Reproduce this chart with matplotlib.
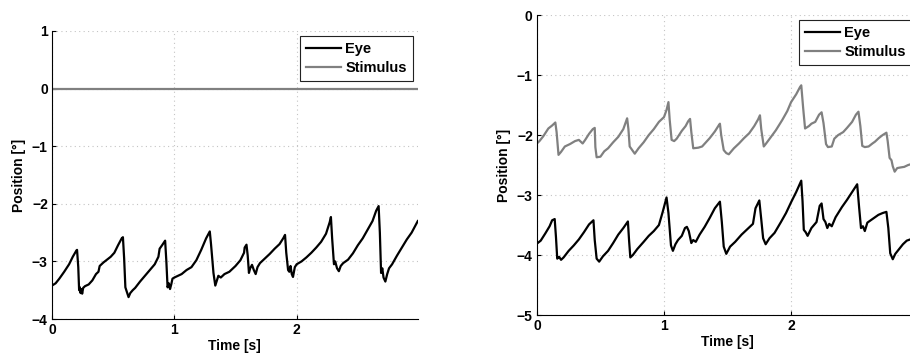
import matplotlib

matplotlib.use("Agg")
import matplotlib.pyplot as plt

# left panel: stimulus fixed at 0, eye drifts in a sawtooth
left_eye_t = [0.00, 0.03, 0.06, 0.10, 0.14, 0.17, 0.20, 0.205, 0.215, 0.222, 0.228, 0.234,
              0.240, 0.247, 0.255, 0.27, 0.30, 0.33, 0.36, 0.38, 0.39, 0.42, 0.45, 0.48,
              0.51, 0.54, 0.57, 0.58, 0.59, 0.60, 0.615, 0.626, 0.64, 0.66, 0.68, 0.72,
              0.76, 0.80, 0.84, 0.87, 0.88, 0.90, 0.925, 0.935, 0.945, 0.955, 0.965, 0.975,
              0.985, 1.00, 1.03, 1.06, 1.10, 1.14, 1.18, 1.22, 1.26, 1.29, 1.30, 1.32,
              1.335, 1.35, 1.36, 1.38, 1.41, 1.45, 1.50, 1.54, 1.57, 1.575, 1.59, 1.60,
              1.61, 1.62, 1.635, 1.65, 1.665, 1.68, 1.70, 1.74, 1.78, 1.82, 1.86, 1.89,
              1.905, 1.915, 1.93, 1.94, 1.95, 1.96, 1.97, 1.985, 2.00, 2.04, 2.08, 2.12,
              2.16, 2.20, 2.24, 2.27, 2.28, 2.29, 2.305, 2.315, 2.33, 2.345, 2.36, 2.38,
              2.42, 2.46, 2.50, 2.54, 2.58, 2.62, 2.65, 2.67, 2.68, 2.69, 2.70, 2.71,
              2.725, 2.74, 2.755, 2.78, 2.82, 2.86, 2.90, 2.94, 2.97, 2.99]
left_eye_y = [-3.42, -3.38, -3.30, -3.18, -3.05, -2.92, -2.81, -2.80, -3.10, -3.50, -3.45, -3.55,
              -3.48, -3.56, -3.46, -3.43, -3.40, -3.33, -3.22, -3.18, -3.08, -3.02, -2.97, -2.92,
              -2.85, -2.72, -2.60, -2.58, -2.95, -3.45, -3.55, -3.62, -3.55, -3.50, -3.46, -3.35,
              -3.25, -3.15, -3.05, -2.92, -2.78, -2.72, -2.64, -3.00, -3.45, -3.38, -3.48, -3.40,
              -3.30, -3.28, -3.25, -3.22, -3.15, -3.10, -2.98, -2.80, -2.60, -2.48, -2.70, -3.20,
              -3.42, -3.32, -3.25, -3.28, -3.22, -3.18, -3.08, -2.98, -2.85, -2.76, -2.71, -2.90,
              -3.20, -3.12, -3.06, -3.15, -3.22, -3.10, -3.03, -2.95, -2.87, -2.78, -2.70, -2.60,
              -2.54, -2.85, -3.15, -3.18, -3.08, -3.22, -3.27, -3.10, -3.05, -3.00, -2.93, -2.85,
              -2.76, -2.66, -2.52, -2.32, -2.23, -2.60, -3.05, -3.00, -3.12, -3.17, -3.08, -3.03,
              -2.97, -2.86, -2.72, -2.60, -2.45, -2.30, -2.12, -2.04, -2.50, -3.20, -3.12, -3.28,
              -3.35, -3.22, -3.12, -3.05, -2.90, -2.76, -2.62, -2.50, -2.38, -2.30]
left_stim_t = [0.0, 2.99]
left_stim_y = [0.0, 0.0]

# right panel: moving stimulus, eye follows about 1.6 deg below
right_stim_t = [0.00, 0.02, 0.05, 0.09, 0.12, 0.145, 0.155, 0.17, 0.19, 0.22, 0.26, 0.30,
                0.33, 0.36, 0.38, 0.41, 0.44, 0.455, 0.46, 0.47, 0.50, 0.53, 0.56, 0.60,
                0.64, 0.68, 0.71, 0.72, 0.73, 0.76, 0.77, 0.80, 0.84, 0.88, 0.92, 0.96,
                1.00, 1.02, 1.035, 1.045, 1.06, 1.08, 1.10, 1.14, 1.17, 1.19, 1.205, 1.215,
                1.23, 1.27, 1.30, 1.33, 1.36, 1.40, 1.43, 1.44, 1.45, 1.47, 1.49, 1.51,
                1.55, 1.59, 1.63, 1.67, 1.71, 1.74, 1.755, 1.765, 1.785, 1.80, 1.835, 1.88,
                1.93, 1.97, 2.00, 2.04, 2.07, 2.08, 2.095, 2.11, 2.14, 2.16, 2.19, 2.22,
                2.24, 2.255, 2.275, 2.29, 2.32, 2.34, 2.37, 2.41, 2.44, 2.48, 2.51, 2.53,
                2.545, 2.56, 2.58, 2.61, 2.64, 2.66, 2.69, 2.72, 2.75, 2.76, 2.775, 2.79,
                2.80, 2.815, 2.835, 2.86, 2.89, 2.92, 2.95, 2.99]
right_stim_y = [-2.14, -2.10, -2.02, -1.89, -1.84, -1.79, -1.95, -2.33, -2.28, -2.19, -2.15, -2.10,
                -2.08, -2.14, -2.08, -1.98, -1.90, -1.88, -2.20, -2.37, -2.36, -2.27, -2.22, -2.12,
                -2.03, -1.90, -1.72, -1.90, -2.19, -2.28, -2.31, -2.22, -2.12, -2.00, -1.90, -1.78,
                -1.70, -1.58, -1.45, -1.75, -2.08, -2.10, -2.06, -1.93, -1.85, -1.77, -1.73, -1.95,
                -2.22, -2.21, -2.19, -2.12, -2.05, -1.94, -1.84, -1.81, -2.00, -2.25, -2.30, -2.32,
                -2.22, -2.14, -2.05, -1.97, -1.85, -1.74, -1.67, -1.90, -2.19, -2.15, -2.05, -1.92,
                -1.75, -1.60, -1.45, -1.32, -1.20, -1.17, -1.55, -1.89, -1.85, -1.81, -1.78, -1.66,
                -1.62, -1.80, -2.15, -2.20, -2.19, -2.06, -2.00, -1.95, -1.88, -1.78, -1.66, -1.61,
                -1.85, -2.18, -2.20, -2.19, -2.14, -2.11, -2.05, -2.00, -1.96, -2.10, -2.38, -2.42,
                -2.52, -2.61, -2.55, -2.54, -2.53, -2.50, -2.48, -2.46]
right_eye_t = [0.00, 0.03, 0.066, 0.10, 0.12, 0.14, 0.15, 0.16, 0.175, 0.19, 0.21, 0.25,
               0.29, 0.33, 0.37, 0.41, 0.445, 0.455, 0.47, 0.49, 0.52, 0.56, 0.60, 0.64,
               0.68, 0.716, 0.725, 0.735, 0.755, 0.79, 0.84, 0.88, 0.92, 0.96, 0.99, 1.02,
               1.035, 1.055, 1.07, 1.09, 1.11, 1.14, 1.165, 1.18, 1.195, 1.205, 1.215, 1.23,
               1.25, 1.28, 1.32, 1.36, 1.40, 1.44, 1.455, 1.47, 1.49, 1.52, 1.56, 1.61,
               1.66, 1.70, 1.72, 1.75, 1.765, 1.78, 1.80, 1.83, 1.87, 1.92, 1.96, 2.00,
               2.04, 2.08, 2.09, 2.10, 2.115, 2.13, 2.16, 2.20, 2.225, 2.24, 2.255, 2.27,
               2.285, 2.30, 2.32, 2.35, 2.40, 2.44, 2.48, 2.52, 2.535, 2.55, 2.565, 2.58,
               2.60, 2.64, 2.687, 2.72, 2.75, 2.765, 2.78, 2.80, 2.82, 2.85, 2.88, 2.91,
               2.95, 2.99]
right_eye_y = [-3.81, -3.76, -3.64, -3.52, -3.42, -3.40, -3.70, -4.06, -4.03, -4.08, -4.04, -3.93,
               -3.84, -3.74, -3.62, -3.49, -3.42, -3.75, -4.06, -4.11, -4.02, -3.93, -3.80, -3.66,
               -3.55, -3.44, -3.75, -4.04, -4.00, -3.90, -3.78, -3.68, -3.60, -3.50, -3.28, -3.04,
               -3.30, -3.84, -3.93, -3.82, -3.75, -3.68, -3.55, -3.53, -3.60, -3.70, -3.80, -3.75,
               -3.78, -3.66, -3.53, -3.38, -3.22, -3.11, -3.45, -3.86, -3.98, -3.86, -3.78, -3.66,
               -3.56, -3.48, -3.22, -3.09, -3.40, -3.72, -3.82, -3.72, -3.63, -3.45, -3.30, -3.12,
               -2.95, -2.76, -3.10, -3.58, -3.62, -3.68, -3.55, -3.45, -3.18, -3.14, -3.40, -3.45,
               -3.55, -3.48, -3.52, -3.37, -3.20, -3.08, -2.95, -2.82, -3.20, -3.55, -3.52, -3.60,
               -3.46, -3.40, -3.33, -3.30, -3.28, -3.55, -3.97, -4.07, -3.98, -3.90, -3.82, -3.76,
               -3.73, -3.70]

x_ticks = [0, 1, 2]
left_y_ticks = [1, 0, -1, -2, -3, -4]
right_y_ticks = [0, -1, -2, -3, -4, -5]

plt.rcParams["font.family"] = ["Liberation Sans", "DejaVu Sans"]
plt.rcParams["font.weight"] = "bold"
plt.rcParams["font.size"] = 10

EYE = "black"
STIM = "#808080"


def style_axes(ax, ylim, yticks):
    ax.set_xlim(0, 2.99)
    ax.set_ylim(*ylim)
    ax.set_xticks(x_ticks)
    ax.set_yticks(yticks)
    ax.tick_params(direction="in", length=3, width=0.8, pad=3, labelsize=10)
    for side in ("top", "right"):
        ax.spines[side].set_visible(False)
    for side in ("left", "bottom"):
        ax.spines[side].set_linewidth(0.8)
    ax.grid(True, linestyle=(0, (1, 3)), color="#c4c4c4", linewidth=0.8)
    ax.set_axisbelow(True)
    ax.set_xlabel("Time [s]", fontweight="bold", labelpad=1)
    ax.set_ylabel("Position [°]", fontweight="bold", labelpad=4)
    leg = ax.legend(loc="upper right", fancybox=False, edgecolor="#222222",
                    framealpha=1, borderpad=0.4, labelspacing=0.36,
                    handlelength=2.4, handletextpad=0.3, borderaxespad=0.35,
                    prop={"weight": "bold", "size": 10.5})
    leg.get_frame().set_linewidth(0.8)


fig = plt.figure(figsize=(9.10, 3.57), dpi=100)

ax1 = fig.add_axes([0.0571, 0.1064, 0.402, 0.807])
ax1.plot(left_eye_t, left_eye_y, color=EYE, lw=1.6, label="Eye")
ax1.plot(left_stim_t, left_stim_y, color=STIM, lw=1.6, label="Stimulus")
style_axes(ax1, (-4, 1), left_y_ticks)

# the right panel runs off the edge of the page, as in the source
ax2 = fig.add_axes([0.590, 0.1176, 0.4176, 0.840])
ax2.plot(right_eye_t, right_eye_y, color=EYE, lw=1.6, label="Eye")
ax2.plot(right_stim_t, right_stim_y, color=STIM, lw=1.6, label="Stimulus")
style_axes(ax2, (-5, 0), right_y_ticks)

fig.savefig("out.png", dpi=100)
